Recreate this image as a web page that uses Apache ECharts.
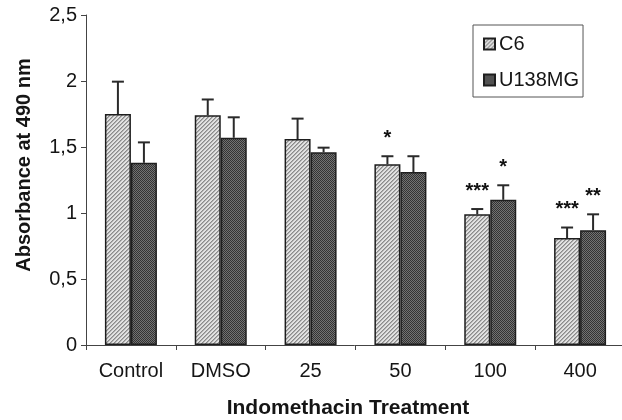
<!DOCTYPE html>
<html>
<head>
<meta charset="utf-8">
<script src="https://cdn.jsdelivr.net/npm/echarts@6/dist/echarts.min.js"></script>
<style>
html,body{margin:0;padding:0;background:#fff;}
#chart{width:622px;height:420px;}
</style>
</head>
<body>
<div id="chart"></div>
<script>
// ---- data ----
const categories = ['Control', 'DMSO', '25', '50', '100', '400'];
const seriesNames = ['C6', 'U138MG'];
const c6Values = [1.75, 1.74, 1.56, 1.37, 0.99, 0.81];
const c6Errors = [0.245, 0.12, 0.155, 0.06, 0.04, 0.08];
const u138Values = [1.38, 1.57, 1.46, 1.31, 1.10, 0.87];
const u138Errors = [0.155, 0.155, 0.035, 0.12, 0.11, 0.12];
const c6Sig = ['', '', '', '*', '***', '***'];
const u138Sig = ['', '', '', '', '*', '**'];
const yTickLabels = ['0', '0,5', '1', '1,5', '2', '2,5'];
const yTitle = 'Absorbance at 490 nm';
const xTitle = 'Indomethacin Treatment';

// ---- styles ----
const FONT = "'Liberation Sans', Arial, Helvetica, sans-serif";
const BAR_W = 26;
const TXT = '#151515';

function makePattern(kind) {
  const c = document.createElement('canvas');
  c.width = 4; c.height = 4;
  const ctx = c.getContext('2d');
  for (let x = 0; x < 4; x++) {
    for (let y = 0; y < 4; y++) {
      if (kind === 'hatch') {
        const k = (x + y) % 4;
        ctx.fillStyle = (k === 0) ? '#8a8a8a' : (k === 1 ? '#b0b0b0' : '#e2e2e2');
      } else {
        ctx.fillStyle = ((x + y) % 2 === 0) ? '#333333' : '#727272';
      }
      ctx.fillRect(x, y, 1, 1);
    }
  }
  return c;
}
const c6Fill = { image: makePattern('hatch'), repeat: 'repeat' };
const u138Fill = { image: makePattern('check'), repeat: 'repeat' };

function errSeries(values, errors, sig, offset) {
  return {
    type: 'custom',
    z: 5,
    clip: false,
    silent: true,
    data: values.map((v, i) => [i, v, errors[i]]),
    encode: { x: 0, y: 1 },
    renderItem: function (params, api) {
      const i = api.value(0);
      const x = api.coord([i, 0])[0] + offset;
      const y0 = api.coord([i, api.value(1)])[1];
      const y1 = api.coord([i, api.value(1) + api.value(2)])[1];
      const st = { stroke: '#2a2a2a', lineWidth: 2 };
      const children = [
        { type: 'line', shape: { x1: x, y1: y0, x2: x, y2: y1 }, style: st },
        { type: 'line', shape: { x1: x - 6, y1: y1, x2: x + 6, y2: y1 }, style: st }
      ];
      const s = sig[params.dataIndex];
      if (s) {
        children.push({
          type: 'text',
          style: {
            x: x, y: y1 - 8, text: s,
            align: 'center', verticalAlign: 'bottom',
            font: 'bold 20px ' + FONT, fill: '#111'
          }
        });
      }
      return { type: 'group', children: children };
    }
  };
}

const chart = echarts.init(document.getElementById('chart'), null, { renderer: 'canvas' });
chart.setOption({
  animation: false,
  backgroundColor: '#fff',
  textStyle: { fontFamily: FONT },
  grid: { left: 86, top: 15, width: 539, height: 330, containLabel: false, outerBoundsMode: 'none' },
  legend: {
    orient: 'vertical',
    left: 473, top: 25,
    padding: [9, 4, 7, 10],
    itemGap: 16,
    itemWidth: 11, itemHeight: 11,
    borderColor: '#555', borderWidth: 1,
    backgroundColor: '#fff',
    icon: 'rect',
    textStyle: { fontSize: 20, color: TXT, fontFamily: FONT, padding: [0, 0, 0, -1] },
    data: seriesNames
  },
  xAxis: {
    type: 'category',
    data: categories,
    name: xTitle,
    nameLocation: 'middle',
    nameGap: 53,
    nameTextStyle: { fontSize: 21, fontWeight: 'bold', color: TXT, fontFamily: FONT, padding: [0, 15, 0, 0] },
    axisLine: { lineStyle: { color: '#444', width: 1 } },
    axisTick: { show: true, length: 5, lineStyle: { color: '#444' } },
    axisLabel: { fontSize: 20, color: TXT, margin: 16, fontFamily: FONT }
  },
  yAxis: {
    type: 'value',
    min: 0, max: 2.5, interval: 0.5,
    name: yTitle,
    nameLocation: 'middle',
    nameGap: 52,
    nameTextStyle: { fontSize: 20, fontWeight: 'bold', color: TXT, fontFamily: FONT, padding: [0, 0, 0, 30] },
    axisLine: { show: true, lineStyle: { color: '#444', width: 1 } },
    axisTick: { show: true, length: 5, lineStyle: { color: '#444' } },
    splitLine: { show: false },
    axisLabel: {
      fontSize: 20, color: TXT, margin: 9, fontFamily: FONT,
      formatter: function (v) { return yTickLabels[Math.round(v / 0.5)]; }
    }
  },
  series: [
    {
      name: seriesNames[0], type: 'bar', data: c6Values,
      barWidth: BAR_W, barGap: '0%',
      itemStyle: { color: c6Fill, borderColor: '#1e1e1e', borderWidth: 1.5 }
    },
    {
      name: seriesNames[1], type: 'bar', data: u138Values,
      barWidth: BAR_W, barGap: '0%',
      itemStyle: { color: u138Fill, borderColor: '#1e1e1e', borderWidth: 1.5 }
    },
    errSeries(c6Values, c6Errors, c6Sig, -BAR_W / 2),
    errSeries(u138Values, u138Errors, u138Sig, BAR_W / 2)
  ]
});
</script>
</body>
</html>
